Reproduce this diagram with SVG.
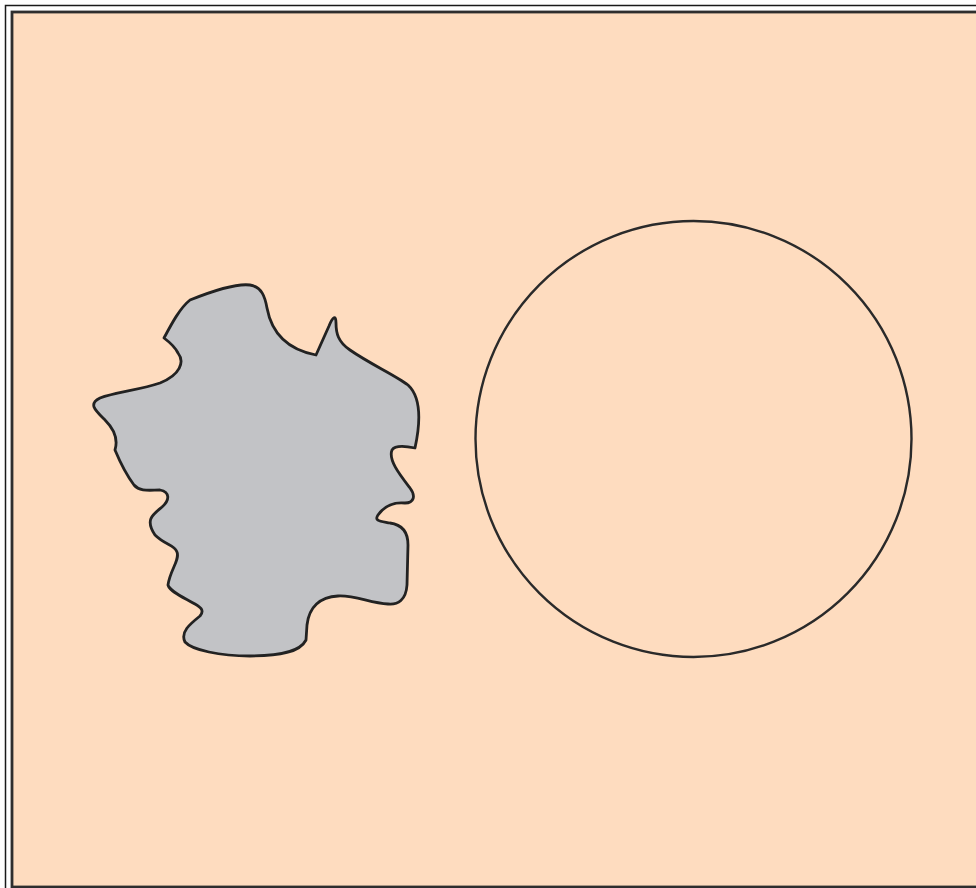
<svg xmlns="http://www.w3.org/2000/svg" width="976" height="888" viewBox="0 0 976 888">
<style>
.frame{fill:none;stroke:#1a1a1a;stroke-width:1.5}
.panel{fill:#FEDCBF;stroke:#2e2e2e;stroke-width:2.8}
.blob{fill:#C2C3C6;stroke:#222;stroke-width:2.8;stroke-linejoin:round}
.ring{fill:none;stroke:#2a2a2a;stroke-width:2.4}
</style>
<rect width="976" height="888" fill="#ffffff"/>
<rect class="frame" x="5.5" y="5.5" width="980" height="900"/>
<rect class="panel" x="12" y="12" width="980" height="875"/>
<g id="blob">
<path class="blob" d="M190,300 C210,292 235,283 250,285 C262,287 265,297 267,308 C272,335 290,350 316,355 L329,326 C333,316 336,315 336,323 C336,333 338,342 350,350 C370,364 395,375 408,385 C422,398 420,425 415,448 C405,446 395,445 392,450 C388,460 400,475 410,488 C416,496 414,503 405,503 C395,502 385,505 378,515 C374,521 380,521 390,523 C405,525 408,535 408,545 L407,585 C406,600 398,605 388,604 C370,603 355,595 338,596 C320,597 309,607 307,625 L306,640 C300,652 280,656 250,656 C220,656 192,650 185,642 C180,632 190,624 200,616 C205,610 200,607 195,604 C185,598 170,592 168,585 C170,570 180,560 177,552 C175,545 165,545 155,535 C145,520 152,515 162,507 C170,500 170,492 160,490 C150,490 140,492 134,485 C125,473 120,462 115,450 C118,440 115,430 105,420 C95,410 88,404 100,398 C115,392 140,390 160,383 C180,375 185,362 178,353 C175,347 168,341 164,338 C172,323 180,308 190,300 Z"/>
</g>
<g id="circle">
<circle class="ring" cx="693.5" cy="439" r="218"/>
</g>
</svg>
